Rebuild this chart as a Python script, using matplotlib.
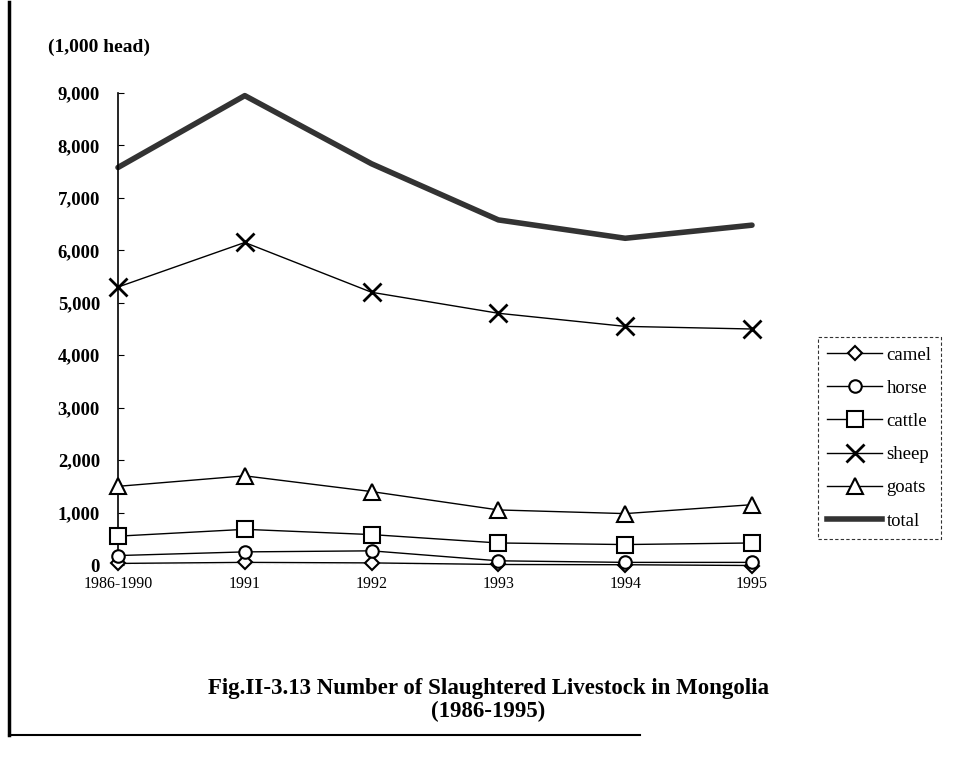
import matplotlib
matplotlib.use("Agg")
import matplotlib.pyplot as plt
from matplotlib.lines import Line2D

categories = ["1986-1990", "1991", "1992", "1993", "1994", "1995"]
camel = [30, 50, 40, 10, 5, -10]
horse = [180, 250, 270, 80, 50, 50]
cattle = [550, 680, 580, 420, 390, 420]
sheep = [5300, 6150, 5200, 4800, 4550, 4500]
goats = [1500, 1700, 1400, 1050, 980, 1150]
total = [7580, 8950, 7650, 6580, 6230, 6480]
yticks = [0, 1000, 2000, 3000, 4000, 5000, 6000, 7000, 8000, 9000]
ytick_labels = ["0", "1,000", "2,000", "3,000", "4,000", "5,000", "6,000", "7,000", "8,000", "9,000"]

plt.rcParams["font.family"] = ["Liberation Serif", "DejaVu Serif"]

W, H = 971, 766
fig = plt.figure(figsize=(W / 100, H / 100), dpi=100)
ax = fig.add_axes([118 / W, 1 - 565 / H, (752 - 118) / W, (565 - 93) / H])

x = list(range(len(categories)))
ax.plot(x, total, color="#333333", lw=4, solid_capstyle="round", clip_on=False, label="total", zorder=2)
series = [
    ("camel", camel, "D", 7),
    ("horse", horse, "o", 9),
    ("cattle", cattle, "s", 11),
    ("sheep", sheep, "x", 13),
    ("goats", goats, "^", 11),
]
handles = []
for name, vals, m, ms in series:
    mew = 2 if m == "x" else 1.5
    ax.plot(x, vals, color="black", lw=1, marker=m, ms=ms, mfc="white", mec="black",
            mew=mew, clip_on=False, zorder=3)
    handles.append(Line2D([], [], color="black", lw=1, marker=m, ms=ms, mfc="white",
                          mec="black", mew=mew, label=name))
handles.append(Line2D([], [], color="#333333", lw=4, label="total"))

ax.set_xlim(0, 5)
ax.set_ylim(0, 9000)
ax.set_yticks(yticks)
ax.set_yticklabels(ytick_labels, fontsize=13.5, fontweight="bold")
ax.set_xticks(x)
ax.set_xticklabels(categories, fontsize=11.5)
ax.tick_params(axis="y", direction="in", length=4, pad=13)
ax.tick_params(axis="x", length=0, pad=8)
for s in ["top", "right", "bottom"]:
    ax.spines[s].set_visible(False)
ax.spines["left"].set_linewidth(1.2)
ax.axhline(0, color="#888888", lw=0.8, ls=(0, (4, 3)), zorder=1)

fig.text(48 / W, 1 - 47 / H, "(1,000 head)", fontsize=14, fontweight="bold", va="center", ha="left")

leg = fig.legend(handles=handles, loc="upper left", bbox_to_anchor=(818 / W, 1 - 337 / H),
                 frameon=True, fontsize=13.5, handlelength=2.9, handletextpad=0.25,
                 labelspacing=0.86, borderpad=0.5, fancybox=False, borderaxespad=0)
leg.get_frame().set_edgecolor("black")
leg.get_frame().set_linestyle((0, (3, 2)))
leg.get_frame().set_linewidth(0.8)

fig.text(488 / W, 1 - 700 / H, "Fig.II-3.13 Number of Slaughtered Livestock in Mongolia\n(1986-1995)",
         fontsize=16.5, fontweight="bold", ha="center", va="center", linespacing=1.1)

fig.add_artist(Line2D([9 / W, 9 / W], [1 - 2 / H, 1 - 735 / H], color="black", lw=2.5))
fig.add_artist(Line2D([9 / W, 640 / W], [1 - 735 / H, 1 - 735 / H], color="black", lw=1.5))

fig.savefig("out.png", dpi=100)
